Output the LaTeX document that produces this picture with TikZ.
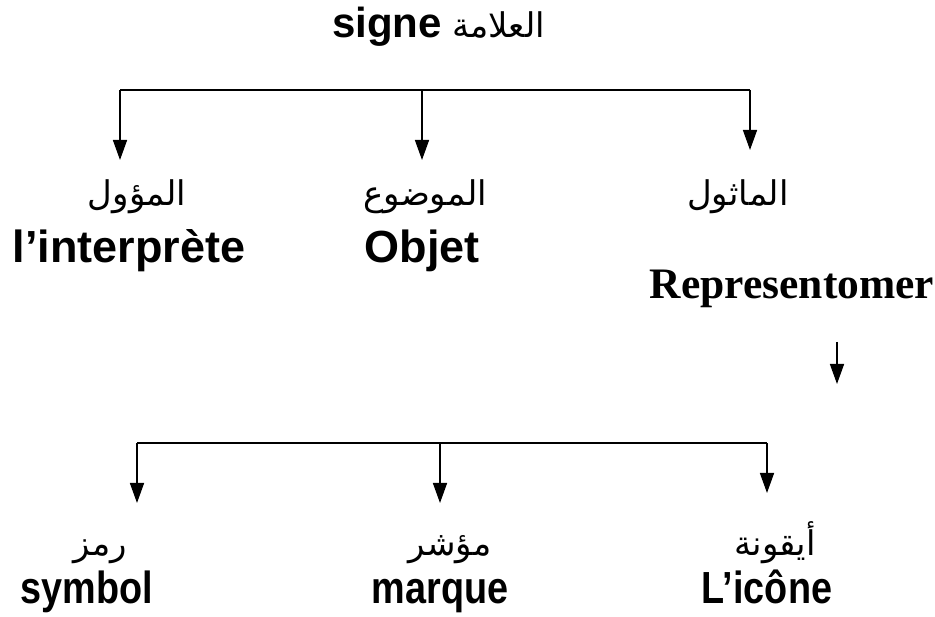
\documentclass[tikz,border=0pt]{standalone}
\usepackage{fontspec}
\setmainfont{Liberation Sans}
\newfontfamily\serifbf{Liberation Serif}
\newfontfamily\arabicfont[Script=Arabic]{DejaVu Sans}
\TeXXeTstate=1
\usetikzlibrary{arrows.meta}
\begin{document}
\begin{tikzpicture}[x=1pt,y=-1pt,
  lat/.style={font=\fontsize{45}{50}\selectfont\bfseries, inner sep=0pt, anchor=base},
  ser/.style={font=\fontsize{43.5}{48}\selectfont\serifbf\bfseries, inner sep=0pt, anchor=base},
  arab/.style={font=\fontsize{34}{38}\selectfont\arabicfont, inner sep=0pt, anchor=base},
  bar/.style={line width=1.5pt},
  arr/.style={line width=1.5pt, -{Triangle[length=20pt,width=14pt]}}]
\useasboundingbox (0,0) rectangle (935,617);
% title
\node[lat, font=\fontsize{42}{46}\selectfont\bfseries, anchor=base east] (signe) at (442,38) {signe};
\node[arab, anchor=base west] (alamah) at (452,38) {\beginR العلامة\endR};
% first level
\coordinate (b1l) at (120,90);
\coordinate (b1m) at (422,90);
\coordinate (b1r) at (750,90);
\coordinate (t1l) at (120,160);
\coordinate (t1m) at (422,160);
\coordinate (t1r) at (750,150);
\draw[bar] (b1l) -- (b1m) -- (b1r);
\draw[arr] (b1l) -- (t1l);
\draw[arr] (b1m) -- (t1m);
\draw[arr] (b1r) -- (t1r);
\node[arab] (muawwil) at (137,206) {\beginR المؤول\endR};
\node[arab] (mawdu) at (425,206) {\beginR الموضوع\endR};
\node[arab] (mathul) at (738,206) {\beginR الماثول\endR};
\node[lat] (interp) at (129,263) {l’interprète};
\node[lat] (objet) at (422,263) {Objet};
\node[ser] (repr) at (792,299) {Representomer};
% second level
\coordinate (s0) at (837,342);
\coordinate (s1) at (837,384);
\draw[arr] (s0) -- (s1);
\coordinate (b2l) at (137,443);
\coordinate (b2m) at (440,443);
\coordinate (b2r) at (767,443);
\coordinate (t2l) at (137,503);
\coordinate (t2m) at (440,503);
\coordinate (t2r) at (767,493);
\draw[bar] (b2l) -- (b2m) -- (b2r);
\draw[arr] (b2l) -- (t2l);
\draw[arr] (b2m) -- (t2m);
\draw[arr] (b2r) -- (t2r);
\node[arab] (ramz) at (100,555) {\beginR رمز\endR};
\node[arab] (muashshir) at (450,555) {\beginR مؤشر\endR};
\node[arab] (iquna) at (775,555) {\beginR أيقونة\endR};
\node[lat, xscale=0.84] (symbol) at (87,603) {symbol};
\node[lat, xscale=0.84] (marque) at (440,603) {marque};
\node[lat, xscale=0.84] (icone) at (767,603) {L’icône};
\end{tikzpicture}
\end{document}
